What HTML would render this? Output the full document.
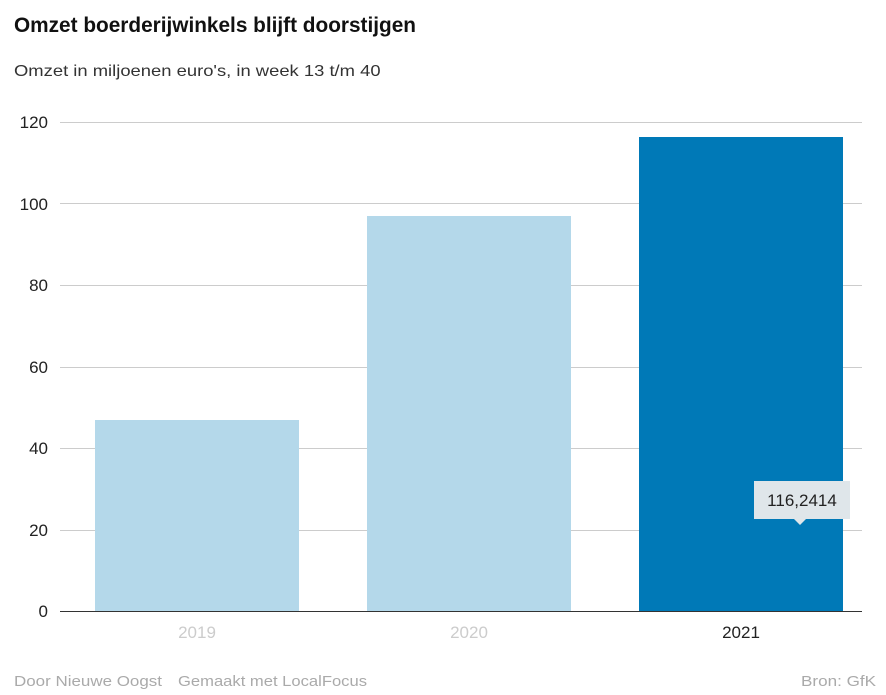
<!DOCTYPE html>
<html><head><meta charset="utf-8"><style>
body{margin:0;width:886px;height:695px;background:#fff;font-family:"Liberation Sans",sans-serif;position:relative;overflow:hidden}
.t{position:absolute;white-space:nowrap}
</style></head><body>
<div class="t" style="left:14px;top:14px;font-size:21px;font-weight:bold;color:#111;transform:scaleX(0.99);transform-origin:left">Omzet boerderijwinkels blijft doorstijgen</div>
<div class="t" style="left:14px;top:63px;font-size:16px;color:#333;transform:scaleX(1.15);transform-origin:left">Omzet in miljoenen euro's, in week 13 t/m 40</div>
<svg width="886" height="695" style="position:absolute;left:0;top:0" font-family="Liberation Sans, sans-serif">
<g stroke="#ccc" stroke-width="1">
<line x1="60" x2="862" y1="122.5" y2="122.5"/><line x1="60" x2="862" y1="203.5" y2="203.5"/>
<line x1="60" x2="862" y1="285.5" y2="285.5"/><line x1="60" x2="862" y1="367.5" y2="367.5"/>
<line x1="60" x2="862" y1="448.5" y2="448.5"/><line x1="60" x2="862" y1="530.5" y2="530.5"/>
</g>
<g font-size="17" fill="#222" text-anchor="end">
<text x="48" y="128">120</text><text x="48" y="210">100</text><text x="48" y="291">80</text>
<text x="48" y="373">60</text><text x="48" y="454">40</text><text x="48" y="536">20</text><text x="48" y="617">0</text>
</g>
<rect x="95" y="420" width="204" height="191" fill="#b4d8ea"/>
<rect x="367" y="216" width="204" height="395" fill="#b4d8ea"/>
<rect x="639" y="137" width="204" height="474" fill="#0079b7"/>
<line x1="60" x2="862" y1="611.5" y2="611.5" stroke="#333" stroke-width="1"/>
<rect x="754" y="481" width="96" height="38" fill="#dfe6ea"/>
<polygon points="794,519 806,519 800,525" fill="#dfe6ea"/>
<text x="802" y="506" font-size="17" fill="#222" text-anchor="middle">116,2414</text>
<g font-size="17" text-anchor="middle">
<text x="197" y="638" fill="#ccc">2019</text><text x="469" y="638" fill="#ccc">2020</text><text x="741" y="638" fill="#222">2021</text>
</g>
<g font-size="15" fill="#aaa">
<text x="14" y="686" textLength="148" lengthAdjust="spacingAndGlyphs">Door Nieuwe Oogst</text>
<text x="178" y="686" textLength="189" lengthAdjust="spacingAndGlyphs">Gemaakt met LocalFocus</text>
<text x="801" y="686" textLength="75" lengthAdjust="spacingAndGlyphs">Bron:  GfK</text>
</g>
</svg>
</body></html>
